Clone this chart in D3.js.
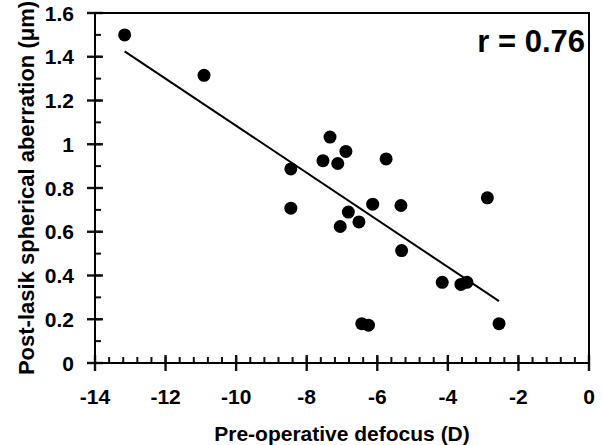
<!DOCTYPE html>
<html>
<head>
<meta charset="utf-8">
<script src="https://cdn.jsdelivr.net/npm/d3@7"></script>
<style>
  body { margin: 0; background: #fff; }
  svg text { font-family: "Liberation Sans", Arial, sans-serif; font-weight: bold; fill: #000; }
</style>
</head>
<body>
<div id="chart"></div>
<script>
// pre-operative defocus (D) vs post-lasik spherical aberration (um)
var defocus = [-13.16, -10.91, -8.45, -8.45, -7.54, -7.34, -7.12, -6.89, -5.75, -2.88, -7.05,
               -6.82, -6.52, -6.13, -5.33, -5.31, -4.16, -3.63, -3.46, -6.44, -6.25, -2.55];
var aberration = [1.50, 1.315, 0.887, 0.708, 0.925, 1.033, 0.912, 0.967, 0.933, 0.755, 0.624,
                  0.69, 0.645, 0.726, 0.72, 0.514, 0.369, 0.359, 0.369, 0.18, 0.173, 0.18];
var xTicks = [-14, -12, -10, -8, -6, -4, -2, 0];
var yTicks = [0, 0.2, 0.4, 0.6, 0.8, 1, 1.2, 1.4, 1.6];
var rLabel = "r = 0.76";

var W = 602, H = 445;
var svg = d3.select("#chart").append("svg")
    .attr("width", W).attr("height", H);

var x = d3.scaleLinear().domain([-14, 0]).range([95, 589]);
var y = d3.scaleLinear().domain([0, 1.6]).range([363, 13]);
var x0 = x(-14), y0 = y(0);

var tickCol = "#111";

function drawTicks(cls, vals, horiz, a, b, w) {
    svg.selectAll("." + cls)
        .data(vals)
        .join("line").attr("class", cls)
        .attr("x1", function (d) { return horiz ? x0 + a : x(d); })
        .attr("x2", function (d) { return horiz ? x0 + b : x(d); })
        .attr("y1", function (d) { return horiz ? y(d) : y0 + a; })
        .attr("y2", function (d) { return horiz ? y(d) : y0 + b; })
        .attr("stroke", tickCol)
        .attr("stroke-width", w);
}

// minor ticks point inward, major ticks cross the axis line
drawTicks("xminor", d3.range(-14, 0.001, 0.4), false, 0, -6, 2);
drawTicks("yminor", d3.range(0, 1.601, 0.1), true, 0, 6, 2);
drawTicks("xmajor", xTicks, false, -8, 8, 2.4);
drawTicks("ymajor", yTicks, true, -8, 8, 2.4);

// frame: left axis, bottom axis, top and right border
svg.append("path")
    .attr("d", "M" + x0 + "," + y(1.6) + "V" + y0 + "H" + x(0) + "V" + y(1.6) + "Z")
    .attr("fill", "none").attr("stroke", "#000").attr("stroke-width", 2);

svg.append("g").selectAll("text")
    .data(xTicks)
    .join("text")
    .attr("x", function (d) { return x(d); })
    .attr("y", 404)
    .attr("text-anchor", "middle")
    .attr("font-size", 21)
    .text(function (d) { return d; });

svg.append("g").selectAll("text")
    .data(yTicks)
    .join("text")
    .attr("x", 74)
    .attr("y", function (d) { return y(d); })
    .attr("dy", "0.36em")
    .attr("text-anchor", "end")
    .attr("font-size", 21)
    .text(function (d) { return d; });

// least-squares fit line over the data range
var mx = d3.mean(defocus), my = d3.mean(aberration);
var sxy = d3.sum(defocus, function (d, i) { return (d - mx) * (aberration[i] - my); });
var sxx = d3.sum(defocus, function (d) { return (d - mx) * (d - mx); });
var slope = sxy / sxx, icpt = my - slope * mx;
var xr = d3.extent(defocus);
svg.append("line")
    .attr("x1", x(xr[0])).attr("y1", y(icpt + slope * xr[0]))
    .attr("x2", x(xr[1])).attr("y2", y(icpt + slope * xr[1]))
    .attr("stroke", "#000").attr("stroke-width", 2);

// points
svg.append("g").selectAll("circle")
    .data(defocus)
    .join("circle")
    .attr("cx", function (d) { return x(d); })
    .attr("cy", function (d, i) { return y(aberration[i]); })
    .attr("r", 6.5)
    .attr("fill", "#000");

svg.append("text")
    .attr("x", 585).attr("y", 52)
    .attr("text-anchor", "end")
    .attr("font-size", 31)
    .text(rLabel);

svg.append("text")
    .attr("x", (x(-14) + x(0)) / 2).attr("y", 441)
    .attr("text-anchor", "middle")
    .attr("font-size", 21)
    .text("Pre-operative defocus (D)");

svg.append("text")
    .attr("transform", "translate(34," + (y(0) + y(1.6)) / 2 + ") rotate(-90)")
    .attr("text-anchor", "middle")
    .attr("font-size", 22)
    .text("Post-lasik spherical aberration (μm)");
</script>
</body>
</html>
